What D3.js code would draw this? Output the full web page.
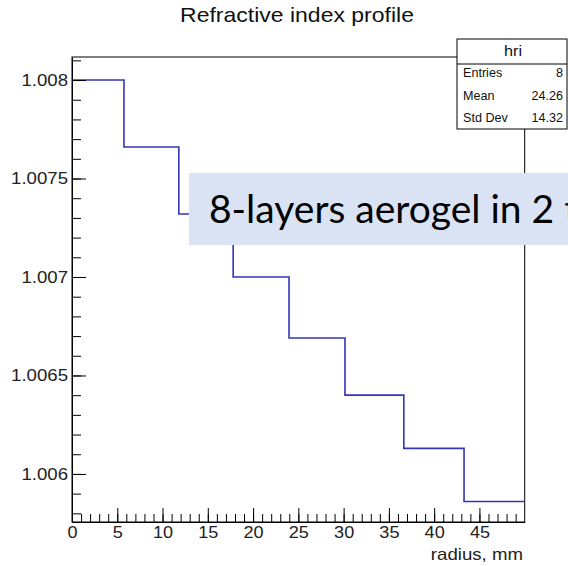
<!DOCTYPE html>
<html>
<head>
<meta charset="utf-8">
<script src="https://cdn.jsdelivr.net/npm/d3@7"></script>
<style>
  html, body { margin: 0; padding: 0; background: #fff; }
  svg { display: block; }
</style>
</head>
<body>
<script>
// Refractive index per aerogel layer, binned by radius (variable bin widths)
const binEdges = [0, 5.74, 11.8, 17.8, 23.97, 30.15, 36.65, 43.3, 50];
const indexValues = [1.0080, 1.00766, 1.00732, 1.00700, 1.00669, 1.00640, 1.00613, 1.00586];
const xTickValues = [0, 5, 10, 15, 20, 25, 30, 35, 40, 45];
const yTickValues = [1.006, 1.0065, 1.007, 1.0075, 1.008];
const statsRows = [["Entries", "8"], ["Mean", "24.26"], ["Std Dev", "14.32"]];
const titleText = "Refractive index profile";
const xTitle = "radius, mm";
const histName = "hri";
const noteText = "8-layers aerogel in 2 t";

const W = 568, H = 566;
const frame = { left: 72, right: 524.7, top: 57, bottom: 522 };
const rootFont = "'Liberation Sans', Arial, Helvetica, sans-serif";
const SX = 1.13; // horizontal stretch of the ROOT-style lettering

const svg = d3.select("body").append("svg")
  .attr("width", W).attr("height", H);

const x = d3.scaleLinear().domain([0, 50]).range([frame.left, frame.right]);
const y = d3.scaleLinear().domain([1.005756, 1.008117]).range([frame.bottom, frame.top]);

// Place a horizontally stretched text at (px, py)
function label(g, px, py, str, size, anchor, sx) {
  return g.append("text")
    .attr("transform", `translate(${px},${py}) scale(${sx},1)`)
    .attr("text-anchor", anchor)
    .attr("font-family", rootFont).attr("font-size", size)
    .attr("fill", "#111")
    .text(str);
}

// Title
label(svg, 297, 22, titleText, 20, "middle", 1.15);

// Frame
svg.append("rect")
  .attr("x", frame.left).attr("y", frame.top)
  .attr("width", frame.right - frame.left).attr("height", frame.bottom - frame.top)
  .attr("fill", "none").attr("stroke", "#000").attr("stroke-width", 1);

// Histogram outline as a step path
const stepPts = [];
indexValues.forEach((v, i) => {
  stepPts.push([binEdges[i], v]);
  stepPts.push([binEdges[i + 1], v]);
});
const line = d3.line().x(d => x(d[0])).y(d => y(d[1]));
svg.append("path")
  .attr("d", line(stepPts))
  .attr("fill", "none").attr("stroke", "#3434b8").attr("stroke-width", 1.6);

// Y axis: major ticks with labels, minor ticks inside the frame
const fmtY = v => d3.format(".4f")(v).replace(/0+$/, "");
const yMinor = d3.range(58, 82).map(k => k / 10000 + 1);
svg.append("g")
  .attr("transform", `translate(${frame.left},0)`)
  .call(d3.axisLeft(y).tickValues(yMinor).tickSizeInner(-9).tickSizeOuter(0).tickFormat(""))
  .call(g => g.select(".domain").remove());
const yAx = svg.append("g")
  .attr("transform", `translate(${frame.left},0)`)
  .call(d3.axisLeft(y).tickValues(yTickValues).tickSizeInner(-14).tickSizeOuter(0).tickPadding(3.5).tickFormat(fmtY));
yAx.select(".domain").attr("stroke", "#000");
yAx.selectAll("text")
  .attr("font-family", rootFont).attr("font-size", 16.5).attr("fill", "#222")
  .attr("transform", `scale(${SX},1)`);

// X axis: major ticks with labels, minor ticks inside the frame
const xMinor = d3.range(0, 50);
svg.append("g")
  .attr("transform", `translate(0,${frame.bottom})`)
  .call(d3.axisBottom(x).tickValues(xMinor).tickSizeInner(-8).tickSizeOuter(0).tickFormat(""))
  .call(g => g.select(".domain").remove());
const xAx = svg.append("g")
  .attr("transform", `translate(0,${frame.bottom})`)
  .call(d3.axisBottom(x).tickValues(xTickValues).tickSizeInner(-14).tickSizeOuter(0).tickPadding(5).tickFormat(d3.format("d")));
xAx.select(".domain").attr("stroke", "#000");
xAx.selectAll("text")
  .attr("font-family", rootFont).attr("font-size", 16).attr("fill", "#222")
  .attr("transform", `scale(${SX},1)`);

// X axis title
label(svg, 523, 560, xTitle, 16.5, "end", SX).attr("fill", "#222");

// Statistics box
const sb = { x: 457, y: 39, w: 110, h: 90, head: 25 };
const stats = svg.append("g");
stats.append("rect")
  .attr("x", sb.x).attr("y", sb.y).attr("width", sb.w).attr("height", sb.h)
  .attr("fill", "#fff").attr("stroke", "#000").attr("stroke-width", 1);
stats.append("line")
  .attr("x1", sb.x).attr("x2", sb.x + sb.w)
  .attr("y1", sb.y + sb.head).attr("y2", sb.y + sb.head)
  .attr("stroke", "#000");
label(stats, sb.x + sb.w / 2 + 1, sb.y + 17, histName, 15, "middle", 1.08);
statsRows.forEach((r, i) => {
  const by = 77 + i * 22.5;
  label(stats, 463, by, r[0], 12, "start", 1.05);
  label(stats, 563, by, r[1], 12, "end", 1.05);
});

// Annotation box laid over the plot
svg.append("rect")
  .attr("x", 189).attr("y", 173).attr("width", 400).attr("height", 72)
  .attr("fill", "#dae3f3");
svg.append("text")
  .attr("x", 209).attr("y", 223)
  .attr("font-family", "Lato, 'Open Sans', sans-serif").attr("font-size", 39)
  .attr("fill", "#000")
  .text(noteText);
</script>
</body>
</html>
